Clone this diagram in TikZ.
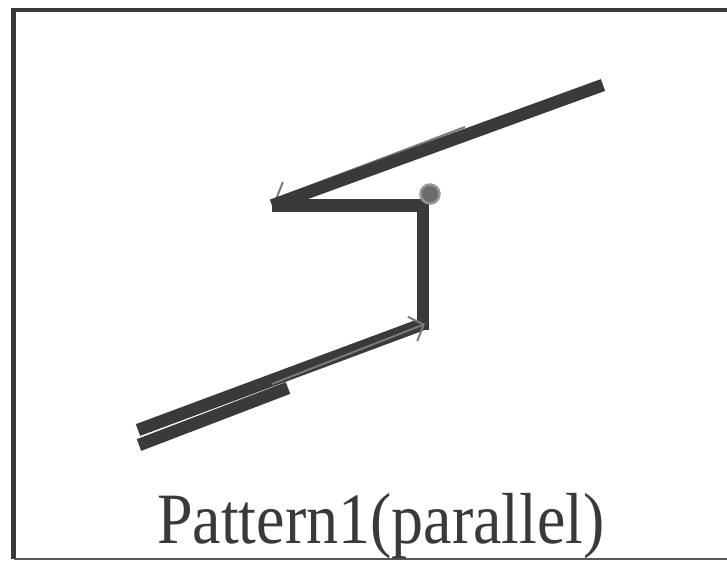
\documentclass[tikz,border=0pt]{standalone}
\usepackage{fontspec}
\setmainfont{Liberation Serif}
\usetikzlibrary{arrows.meta}
\definecolor{ink}{HTML}{3A3A3A}
\definecolor{thin}{HTML}{7A7A7A}
\tikzset{
  bar/.style={draw=ink, line width=12.5pt},
  guide/.style={draw=thin, line width=2pt, -{Straight Barb[length=12pt,width=26pt]}},
  frame/.style={draw=ink, line width=4.5pt},
}
\begin{document}
\begin{tikzpicture}[x=1pt,y=-1pt]
\useasboundingbox (0,0) rectangle (727,563);
\fill[white] (0,0) rectangle (727,563);
% frame
\draw[frame] (735,10) -- (13.5,10) -- (13.5,559);
\draw[draw=ink!85, line width=2.5pt] (13.5,559) -- (735,559);
% points
\coordinate (a) at (603,85);
\coordinate (b) at (272,205.5);
\coordinate (c) at (423,205.5);
\coordinate (d) at (423,324);
\coordinate (e) at (138,430);
\coordinate (f) at (139,445);
\coordinate (g) at (288,388);
\coordinate (h) at (465,127);
\coordinate (i) at (275,199);
\coordinate (j) at (272,384);
\coordinate (k) at (425,324);
% hidden guide under upper bar
\draw[guide] (h) -- (i);
% bars
\draw[bar] (a) -- (b);
\draw[bar] (b) -- (c);
\draw[bar, line cap=rect] (c) -- (d);
\draw[bar] (d) -- (e);
\draw[bar] (g) -- (f);
% visible guide on lower bar
\draw[guide] (j) -- (k);
% joint
\node[circle, fill=ink!75, draw=thin!80, line width=2.5pt, minimum size=19pt, inner sep=0pt] (o) at (430,194) {};
% label
\node[text=ink, font=\fontsize{64}{70}\selectfont, anchor=base, yscale=1.13] (t) at (381,543) {Pattern1(parallel)};
\end{tikzpicture}
\end{document}
